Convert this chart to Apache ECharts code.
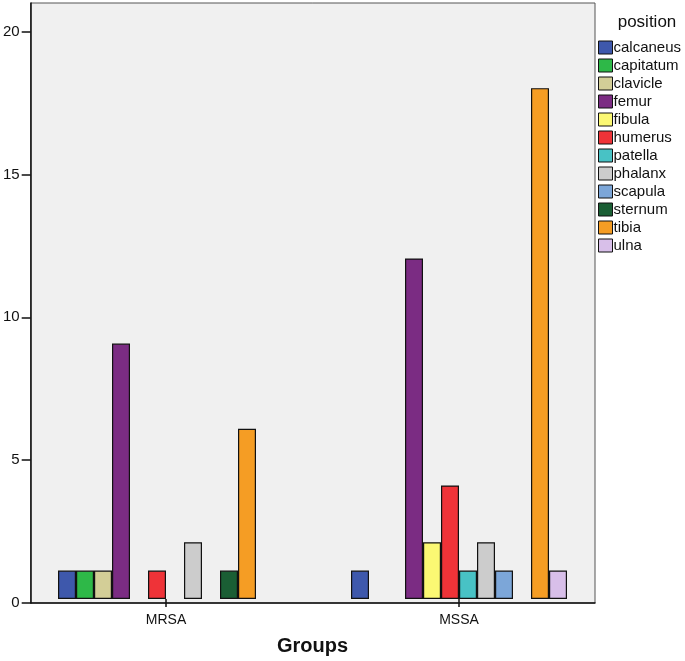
<!DOCTYPE html>
<html>
<head>
<meta charset="utf-8">
<script src="https://cdn.jsdelivr.net/npm/echarts@6/dist/echarts.min.js"></script>
<style>html,body{margin:0;padding:0;background:#fff;}#c{width:685px;height:661px;}</style>
</head>
<body>
<div id="c"></div>
<script>
const groups = ['MRSA', 'MSSA'];
const positions = ['calcaneus','capitatum','clavicle','femur','fibula','humerus','patella','phalanx','scapula','sternum','tibia','ulna'];
const calcaneus = [1, 1];
const capitatum = [1, 0];
const clavicle  = [1, 0];
const femur     = [9, 12];
const fibula    = [0, 2];
const humerus   = [1, 4];
const patella   = [0, 1];
const phalanx   = [2, 2];
const scapula   = [0, 1];
const sternum   = [1, 0];
const tibia     = [6, 18];
const ulna      = [0, 1];
const yTicks = [0, 5, 10, 15, 20];
const colors = ['#3E58AC','#2EB848','#D3CE97','#7B2C83','#FBF873','#EF3338','#48C2C5','#CCCCCC','#7CA6D8','#1A5E34','#F59D24','#D8BFE9'];

const values = {calcaneus, capitatum, clavicle, femur, fibula, humerus, patella, phalanx, scapula, sternum, tibia, ulna};
const font = 'Liberation Sans, Arial, sans-serif';

const series = positions.map((p, i) => ({
  name: p,
  type: 'bar',
  xAxisIndex: 1,
  yAxisIndex: 1,
  barWidth: 18,
  barGap: '0%',
  itemStyle: { color: colors[i], borderColor: '#111', borderWidth: 1.2 },
  data: values[p].map(v => v === 0 ? null : v)
}));

const chart = echarts.init(document.getElementById('c'), null, {renderer: 'canvas'});
chart.setOption({
  animation: false,
  backgroundColor: '#fff',
  title: {
    text: 'position', left: 642, top: 9, textAlign: 'center',
    textStyle: { fontFamily: font, fontSize: 17, fontWeight: 'normal', color: '#111' }
  },
  legend: {
    orient: 'vertical', left: 598, top: 40, padding: 0,
    itemWidth: 14, itemHeight: 13, itemGap: 3,
    icon: 'rect',
    itemStyle: { borderColor: '#111', borderWidth: 1 },
    textStyle: { fontFamily: font, fontSize: 15, lineHeight: 15, color: '#111', padding: [0,0,0,-4] },
    data: positions
  },
  grid: [
    { left: 30, top: 3, width: 565, height: 600, show: true, backgroundColor: '#F0F0F0', borderColor: '#555', borderWidth: 1 },
    { left: 19.5, top: 3, width: 586, height: 600 }
  ],
  xAxis: [
    { gridIndex: 0, type: 'value', min: 0, max: 1, axisLine: { show: true, lineStyle: { color: '#111', width: 1.5 } },
      axisTick: { show: false }, axisLabel: { show: false }, splitLine: { show: false } },
    { gridIndex: 1, type: 'category', data: groups,
      axisLine: { show: false },
      axisTick: { show: true, alignWithLabel: true, length: 8, lineStyle: { color: '#111', width: 1.5 } },
      axisLabel: { fontFamily: font, fontSize: 14, color: '#111', margin: 14 },
      name: 'Groups', nameLocation: 'middle', nameGap: 37,
      nameTextStyle: { fontFamily: font, fontSize: 20, fontWeight: 'bold', color: '#111' } }
  ],
  yAxis: [
    { gridIndex: 0, type: 'value', min: 0, max: 21, interval: 5,
      axisLine: { show: true, lineStyle: { color: '#111', width: 1.5 } },
      axisTick: { show: true, length: 9, customValues: yTicks, lineStyle: { color: '#111', width: 1.5 } },
      axisLabel: { fontFamily: font, fontSize: 15, color: '#111', margin: 11, customValues: yTicks },
      splitLine: { show: false } },
    { gridIndex: 1, type: 'value', min: 0, max: 21, show: false, splitLine: { show: false } }
  ],
  series: series
});
</script>
</body>
</html>
